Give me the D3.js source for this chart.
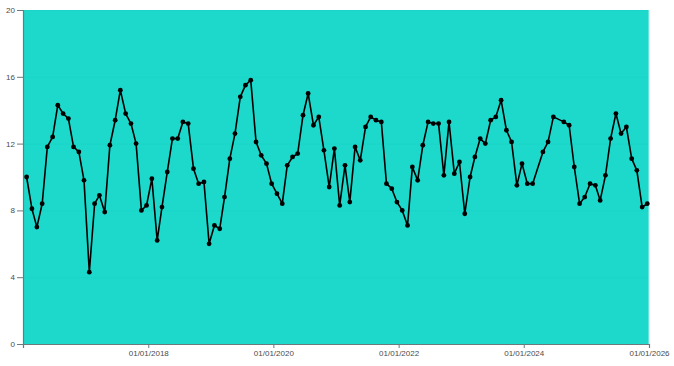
<!DOCTYPE html>
<html>
<head>
<meta charset="utf-8">
<script src="https://cdn.jsdelivr.net/npm/d3@7"></script>
<style>
  body { margin: 0; background: #fff; }
  text { font-family: "Liberation Sans", Arial, sans-serif; }
</style>
</head>
<body>
<div id="chart"></div>
<script>
// monthly readings, two months (2024-03, 2024-07) are absent in the source
var dates = [
  "2016-01","2016-02","2016-03","2016-04","2016-05","2016-06","2016-07","2016-08","2016-09","2016-10","2016-11","2016-12",
  "2017-01","2017-02","2017-03","2017-04","2017-05","2017-06","2017-07","2017-08","2017-09","2017-10","2017-11","2017-12",
  "2018-01","2018-02","2018-03","2018-04","2018-05","2018-06","2018-07","2018-08","2018-09","2018-10","2018-11","2018-12",
  "2019-01","2019-02","2019-03","2019-04","2019-05","2019-06","2019-07","2019-08","2019-09","2019-10","2019-11","2019-12",
  "2020-01","2020-02","2020-03","2020-04","2020-05","2020-06","2020-07","2020-08","2020-09","2020-10","2020-11","2020-12",
  "2021-01","2021-02","2021-03","2021-04","2021-05","2021-06","2021-07","2021-08","2021-09","2021-10","2021-11","2021-12",
  "2022-01","2022-02","2022-03","2022-04","2022-05","2022-06","2022-07","2022-08","2022-09","2022-10","2022-11","2022-12",
  "2023-01","2023-02","2023-03","2023-04","2023-05","2023-06","2023-07","2023-08","2023-09","2023-10","2023-11","2023-12",
  "2024-01","2024-02","2024-04","2024-05","2024-06","2024-08","2024-09","2024-10","2024-11","2024-12",
  "2025-01","2025-02","2025-03","2025-04","2025-05","2025-06","2025-07","2025-08","2025-09","2025-10","2025-11","2025-12"
];

var values = [
  10.0, 8.1, 7.0, 8.4, 11.8, 12.4, 14.3, 13.8, 13.5, 11.8, 11.5, 9.8,
  4.3, 8.4, 8.9, 7.9, 11.9, 13.4, 15.2, 13.8, 13.2, 12.0, 8.0, 8.3,
  9.9, 6.2, 8.2, 10.3, 12.3, 12.3, 13.3, 13.2, 10.5, 9.6, 9.7, 6.0,
  7.1, 6.9, 8.8, 11.1, 12.6, 14.8, 15.5, 15.8, 12.1, 11.3, 10.8, 9.6,
  9.0, 8.4, 10.7, 11.2, 11.4, 13.7, 15.0, 13.1, 13.6, 11.6, 9.4, 11.7,
  8.3, 10.7, 8.5, 11.8, 11.0, 13.0, 13.6, 13.4, 13.3, 9.6, 9.3, 8.5,
  8.0, 7.1, 10.6, 9.8, 11.9, 13.3, 13.2, 13.2, 10.1, 13.3, 10.2, 10.9,
  7.8, 10.0, 11.2, 12.3, 12.0, 13.4, 13.6, 14.6, 12.8, 12.1, 9.5, 10.8,
  9.6, 9.6, 11.5, 12.1, 13.6, 13.3, 13.1, 10.6, 8.4, 8.8,
  9.6, 9.5, 8.6, 10.1, 12.3, 13.8, 12.6, 13.0, 11.1, 10.4, 8.2, 8.4
];

var yTicks = [0, 4, 8, 12, 16, 20];
var xTicks = ["2018-01-01", "2020-01-01", "2022-01-01", "2024-01-01", "2026-01-01"];

var margin = {top: 10, right: 25, bottom: 22, left: 23},
    width = 674 - margin.left - margin.right,
    height = 366 - margin.top - margin.bottom;

var svg = d3.select("#chart")
  .append("svg")
  .attr("width", 674)
  .attr("height", 366)
  .append("g")
  .attr("transform", "translate(" + margin.left + "," + margin.top + ")");

var parseMonth = d3.timeParse("%Y-%m");
var parseDay = d3.timeParse("%Y-%m-%d");

var data = dates.map(function(d, i) {
  var t = parseMonth(d);
  return {date: d3.timeDay.offset(t, 21), value: values[i]};
});

var x = d3.scaleTime()
  .domain([parseDay("2016-01-01"), parseDay("2026-01-01")])
  .range([0, width]);

var y = d3.scaleLinear()
  .domain([0, 20])
  .range([height, 0]);

// plot background
svg.append("rect")
  .attr("x", 0)
  .attr("y", 0)
  .attr("width", width)
  .attr("height", height)
  .attr("fill", "#1cd9cc");

svg.append("line")
  .attr("x1", width).attr("x2", width)
  .attr("y1", 0).attr("y2", height)
  .attr("stroke", "#b9ece8")
  .attr("stroke-width", 1);

// gridlines
svg.selectAll("grid")
  .data(yTicks.slice(1))
  .enter()
  .append("line")
    .attr("x1", 0)
    .attr("x2", width)
    .attr("y1", function(d) { return y(d) + 0.5; })
    .attr("y2", function(d) { return y(d) + 0.5; })
    .attr("stroke", "#8a9c9a")
    .attr("stroke-width", 0.8)
    .attr("stroke-dasharray", "1,1");

// axes
var yAxis = svg.append("g")
  .call(d3.axisLeft(y).tickValues(yTicks).tickSize(6).tickPadding(2).tickFormat(d3.format("d")));

var xAxis = svg.append("g")
  .attr("transform", "translate(0," + height + ")")
  .call(d3.axisBottom(x)
    .tickValues(xTicks.map(parseDay))
    .tickSize(4)
    .tickPadding(2)
    .tickFormat(d3.timeFormat("%d/%m/%Y")));

[yAxis, xAxis].forEach(function(a) {
  a.select(".domain").attr("stroke", "#6b7b7d").attr("stroke-width", 1.2);
  a.selectAll(".tick line").attr("stroke", "#6b7b7d");
  a.selectAll(".tick text")
    .attr("fill", "#4a4a4a")
    .style("font-size", "8px")
    .style("font-family", "'Liberation Sans', Arial, sans-serif");
});

// series
var line = d3.line()
  .x(function(d) { return x(d.date); })
  .y(function(d) { return y(d.value); });

svg.append("path")
  .datum(data)
  .attr("fill", "none")
  .attr("stroke", "#000")
  .attr("stroke-width", 1.6)
  .attr("stroke-linejoin", "round")
  .attr("d", line);

svg.selectAll("dots")
  .data(data)
  .enter()
  .append("circle")
    .attr("cx", function(d) { return x(d.date); })
    .attr("cy", function(d) { return y(d.value); })
    .attr("r", 2.4)
    .attr("fill", "#000");
</script>
</body>
</html>
